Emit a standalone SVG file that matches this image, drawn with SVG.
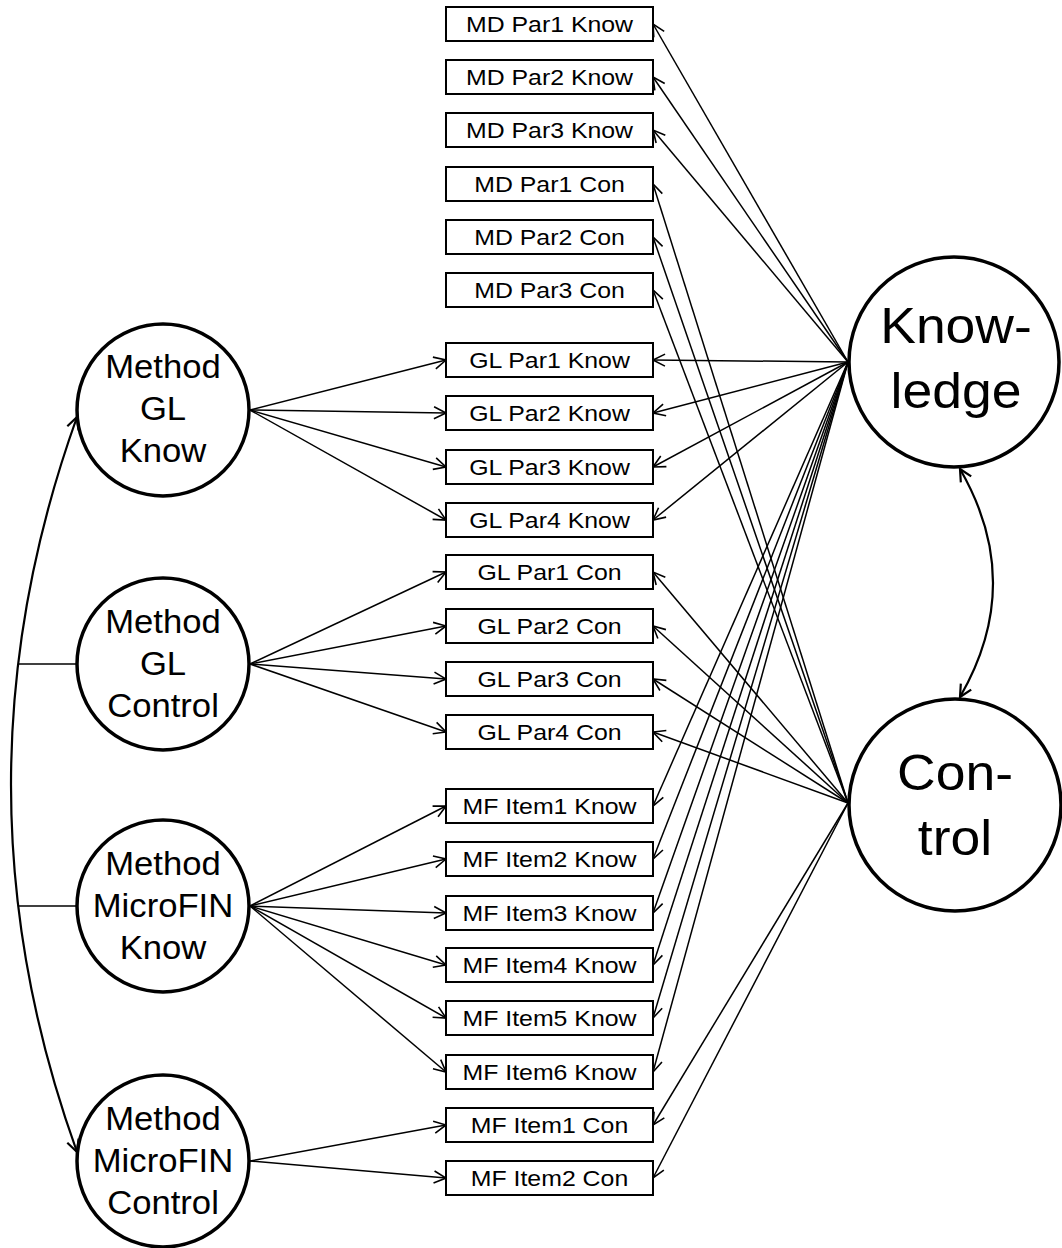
<svg xmlns="http://www.w3.org/2000/svg" width="1062" height="1248" viewBox="0 0 1062 1248">
<style>
.box{fill:#fff;stroke:#000;stroke-width:2}
.circ{fill:#fff;stroke:#000;stroke-width:3.5}
.bt{font-family:"Liberation Sans",Arial,sans-serif;font-size:22px;text-anchor:middle;fill:#000}
.ct{font-family:"Liberation Sans",Arial,sans-serif;font-size:33px;text-anchor:middle;fill:#000}
.lt{font-family:"Liberation Sans",Arial,sans-serif;font-size:50px;text-anchor:middle;fill:#000}
.con line,.con path{stroke:#000;stroke-width:1.5;fill:none;marker-end:url(#ah)}
.con .dbl{stroke-width:2.2;marker-start:url(#ah2);marker-end:url(#ah2)}
</style>
<defs>
<marker id="ah" viewBox="-14 -8 16 16" refX="0" refY="0" markerWidth="16" markerHeight="16" markerUnits="userSpaceOnUse" orient="auto-start-reverse">
<path d="M-12,-6 L0,0 L-12,6" fill="none" stroke="#000" stroke-width="1.6"/>
</marker>
<marker id="ah2" viewBox="-14 -8 16 16" refX="0" refY="0" markerWidth="16" markerHeight="16" markerUnits="userSpaceOnUse" orient="auto-start-reverse">
<path d="M-12,-6 L0,0 L-12,6" fill="none" stroke="#000" stroke-width="2.2"/>
</marker>
</defs>
<rect width="1062" height="1248" fill="#fff"/>
<g id="connectors" class="con">
<path class="dbl" d="M77,417 Q-55,785 77,1152"/>
<line x1="18" y1="664" x2="77" y2="664" style="marker-end:none"/>
<line x1="18" y1="906" x2="77" y2="906" style="marker-end:none"/>
<path class="dbl" d="M960,469 Q1026,583 960,697"/>
<line x1="250" y1="410" x2="446" y2="360"/>
<line x1="250" y1="410" x2="446" y2="413"/>
<line x1="250" y1="410" x2="446" y2="467"/>
<line x1="250" y1="410" x2="446" y2="520"/>
<line x1="250" y1="664" x2="446" y2="572"/>
<line x1="250" y1="664" x2="446" y2="626"/>
<line x1="250" y1="664" x2="446" y2="679"/>
<line x1="250" y1="664" x2="446" y2="732"/>
<line x1="250" y1="906" x2="446" y2="806"/>
<line x1="250" y1="906" x2="446" y2="859"/>
<line x1="250" y1="906" x2="446" y2="913"/>
<line x1="250" y1="906" x2="446" y2="965"/>
<line x1="250" y1="906" x2="446" y2="1018"/>
<line x1="250" y1="906" x2="446" y2="1072"/>
<line x1="250" y1="1161" x2="446" y2="1125"/>
<line x1="250" y1="1161" x2="446" y2="1178"/>
<line x1="848" y1="362" x2="653" y2="24"/>
<line x1="848" y1="362" x2="653" y2="77"/>
<line x1="848" y1="362" x2="653" y2="130"/>
<line x1="848" y1="362" x2="653" y2="360"/>
<line x1="848" y1="362" x2="653" y2="413"/>
<line x1="848" y1="362" x2="653" y2="467"/>
<line x1="848" y1="362" x2="653" y2="520"/>
<line x1="848" y1="362" x2="653" y2="806"/>
<line x1="848" y1="362" x2="653" y2="859"/>
<line x1="848" y1="362" x2="653" y2="913"/>
<line x1="848" y1="362" x2="653" y2="965"/>
<line x1="848" y1="362" x2="653" y2="1018"/>
<line x1="848" y1="362" x2="653" y2="1072"/>
<line x1="848" y1="803" x2="653" y2="184"/>
<line x1="848" y1="803" x2="653" y2="237"/>
<line x1="848" y1="803" x2="653" y2="290"/>
<line x1="848" y1="803" x2="653" y2="572"/>
<line x1="848" y1="803" x2="653" y2="626"/>
<line x1="848" y1="803" x2="653" y2="679"/>
<line x1="848" y1="803" x2="653" y2="732"/>
<line x1="848" y1="803" x2="653" y2="1125"/>
<line x1="848" y1="803" x2="653" y2="1178"/>
</g>
<g id="md-par1-know"><rect class="box" x="446" y="7" width="207" height="34"/><text class="bt" transform="translate(549.5,32) scale(1.13,1)">MD Par1 Know</text></g>
<g id="md-par2-know"><rect class="box" x="446" y="60" width="207" height="34"/><text class="bt" transform="translate(549.5,85) scale(1.13,1)">MD Par2 Know</text></g>
<g id="md-par3-know"><rect class="box" x="446" y="113" width="207" height="34"/><text class="bt" transform="translate(549.5,138) scale(1.13,1)">MD Par3 Know</text></g>
<g id="md-par1-con"><rect class="box" x="446" y="167" width="207" height="34"/><text class="bt" transform="translate(549.5,192) scale(1.13,1)">MD Par1 Con</text></g>
<g id="md-par2-con"><rect class="box" x="446" y="220" width="207" height="34"/><text class="bt" transform="translate(549.5,245) scale(1.13,1)">MD Par2 Con</text></g>
<g id="md-par3-con"><rect class="box" x="446" y="273" width="207" height="34"/><text class="bt" transform="translate(549.5,298) scale(1.13,1)">MD Par3 Con</text></g>
<g id="gl-par1-know"><rect class="box" x="446" y="343" width="207" height="34"/><text class="bt" transform="translate(549.5,368) scale(1.13,1)">GL Par1 Know</text></g>
<g id="gl-par2-know"><rect class="box" x="446" y="396" width="207" height="34"/><text class="bt" transform="translate(549.5,421) scale(1.13,1)">GL Par2 Know</text></g>
<g id="gl-par3-know"><rect class="box" x="446" y="450" width="207" height="34"/><text class="bt" transform="translate(549.5,475) scale(1.13,1)">GL Par3 Know</text></g>
<g id="gl-par4-know"><rect class="box" x="446" y="503" width="207" height="34"/><text class="bt" transform="translate(549.5,528) scale(1.13,1)">GL Par4 Know</text></g>
<g id="gl-par1-con"><rect class="box" x="446" y="555" width="207" height="34"/><text class="bt" transform="translate(549.5,580) scale(1.13,1)">GL Par1 Con</text></g>
<g id="gl-par2-con"><rect class="box" x="446" y="609" width="207" height="34"/><text class="bt" transform="translate(549.5,634) scale(1.13,1)">GL Par2 Con</text></g>
<g id="gl-par3-con"><rect class="box" x="446" y="662" width="207" height="34"/><text class="bt" transform="translate(549.5,687) scale(1.13,1)">GL Par3 Con</text></g>
<g id="gl-par4-con"><rect class="box" x="446" y="715" width="207" height="34"/><text class="bt" transform="translate(549.5,740) scale(1.13,1)">GL Par4 Con</text></g>
<g id="mf-item1-know"><rect class="box" x="446" y="789" width="207" height="34"/><text class="bt" transform="translate(549.5,814) scale(1.13,1)">MF Item1 Know</text></g>
<g id="mf-item2-know"><rect class="box" x="446" y="842" width="207" height="34"/><text class="bt" transform="translate(549.5,867) scale(1.13,1)">MF Item2 Know</text></g>
<g id="mf-item3-know"><rect class="box" x="446" y="896" width="207" height="34"/><text class="bt" transform="translate(549.5,921) scale(1.13,1)">MF Item3 Know</text></g>
<g id="mf-item4-know"><rect class="box" x="446" y="948" width="207" height="34"/><text class="bt" transform="translate(549.5,973) scale(1.13,1)">MF Item4 Know</text></g>
<g id="mf-item5-know"><rect class="box" x="446" y="1001" width="207" height="34"/><text class="bt" transform="translate(549.5,1026) scale(1.13,1)">MF Item5 Know</text></g>
<g id="mf-item6-know"><rect class="box" x="446" y="1055" width="207" height="34"/><text class="bt" transform="translate(549.5,1080) scale(1.13,1)">MF Item6 Know</text></g>
<g id="mf-item1-con"><rect class="box" x="446" y="1108" width="207" height="34"/><text class="bt" transform="translate(549.5,1133) scale(1.13,1)">MF Item1 Con</text></g>
<g id="mf-item2-con"><rect class="box" x="446" y="1161" width="207" height="34"/><text class="bt" transform="translate(549.5,1186) scale(1.13,1)">MF Item2 Con</text></g>
<g id="method-gl-know"><circle class="circ" cx="163" cy="410" r="86"/>
<text class="ct" transform="translate(163,378) scale(1.05,1)">Method</text>
<text class="ct" transform="translate(163,420) scale(1.05,1)">GL</text>
<text class="ct" transform="translate(163,462) scale(1.05,1)">Know</text></g>
<g id="method-gl-control"><circle class="circ" cx="163" cy="664" r="86"/>
<text class="ct" transform="translate(163,633) scale(1.05,1)">Method</text>
<text class="ct" transform="translate(163,675) scale(1.05,1)">GL</text>
<text class="ct" transform="translate(163,717) scale(1.05,1)">Control</text></g>
<g id="method-microfin-know"><circle class="circ" cx="163" cy="906" r="86"/>
<text class="ct" transform="translate(163,875) scale(1.05,1)">Method</text>
<text class="ct" transform="translate(163,917) scale(1.05,1)">MicroFIN</text>
<text class="ct" transform="translate(163,959) scale(1.05,1)">Know</text></g>
<g id="method-microfin-control"><circle class="circ" cx="163" cy="1161" r="86"/>
<text class="ct" transform="translate(163,1130) scale(1.05,1)">Method</text>
<text class="ct" transform="translate(163,1172) scale(1.05,1)">MicroFIN</text>
<text class="ct" transform="translate(163,1214) scale(1.05,1)">Control</text></g>
<g id="knowledge"><circle class="circ" cx="954" cy="362" r="105"/>
<text class="lt" transform="translate(956,343) scale(1.07,1)">Know-</text>
<text class="lt" transform="translate(956,408) scale(1.07,1)">ledge</text></g>
<g id="control"><circle class="circ" cx="955" cy="805" r="106"/>
<text class="lt" transform="translate(955,790) scale(1.07,1)">Con-</text>
<text class="lt" transform="translate(955,855) scale(1.07,1)">trol</text></g>
</svg>
